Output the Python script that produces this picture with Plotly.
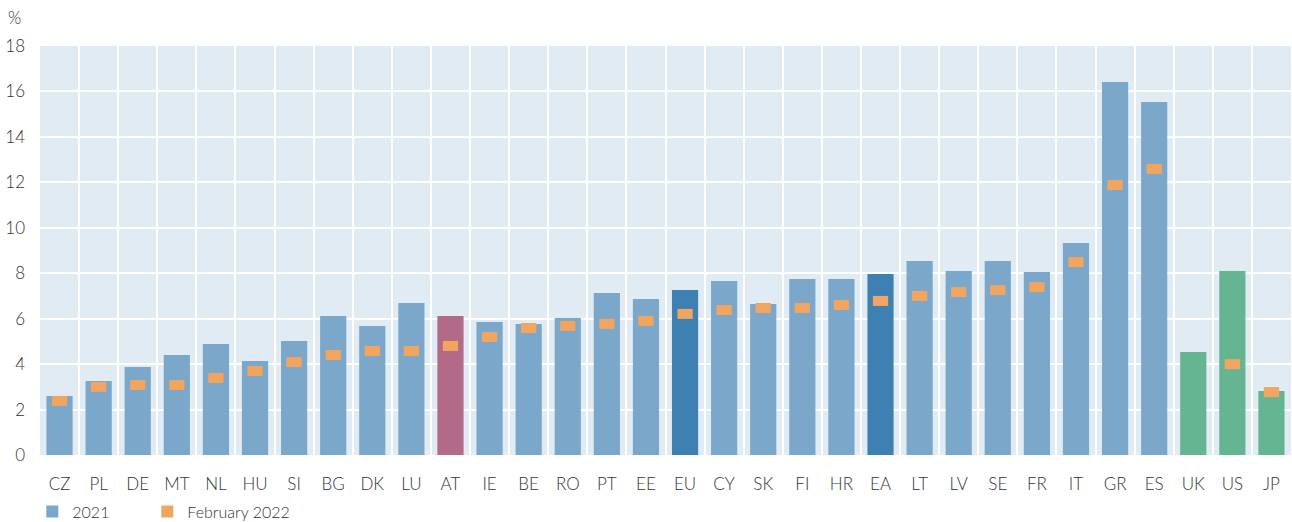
import plotly.graph_objects as go

categories = ["CZ", "PL", "DE", "MT", "NL", "HU", "SI", "BG", "DK", "LU", "AT", "IE", "BE", "RO",
              "PT", "EE", "EU", "CY", "SK", "FI", "HR", "EA", "LT", "LV", "SE", "FR", "IT", "GR",
              "ES", "UK", "US", "JP"]
values_2021 = [2.60, 3.26, 3.87, 4.40, 4.89, 4.14, 5.02, 6.12, 5.68, 6.69, 6.12, 5.85, 5.77, 6.03,
               7.13, 6.87, 7.26, 7.66, 6.65, 7.75, 7.75, 7.97, 8.54, 8.10, 8.54, 8.05, 9.33, 16.42,
               15.54, 4.53, 8.10, 2.82]
values_feb2022 = [2.38, 3.00, 3.08, 3.08, 3.39, 3.70, 4.09, 4.40, 4.58, 4.58, 4.80, 5.19, 5.59, 5.68,
                  5.77, 5.90, 6.21, 6.38, 6.47, 6.47, 6.60, 6.78, 7.00, 7.17, 7.26, 7.39, 8.49, 11.88,
                  12.59, None, 4.00, 2.77]

C_LIGHT = "#7BA7CA"
C_DARK = "#3F80B2"
C_AT = "#B36A88"
C_GREEN = "#66B592"
C_ORANGE = "#F2A55F"

def bar_color(c):
    if c in ("EU", "EA"):
        return C_DARK
    if c == "AT":
        return C_AT
    if c in ("UK", "US", "JP"):
        return C_GREEN
    return C_LIGHT

colors = [bar_color(c) for c in categories]

HALF = 0.22  # half height of the marker rectangle in % units
feb_cats = [c for c, v in zip(categories, values_feb2022) if v is not None]
feb_vals = [v for v in values_feb2022 if v is not None]

FONT = "Lato, 'Open Sans', sans-serif"
TXT = "#333333"

fig = go.Figure()
fig.add_trace(go.Bar(
    x=categories, y=values_2021, name="2021",
    marker=dict(color=colors, line=dict(width=0)),
    width=0.67, legend="legend",
))
fig.add_trace(go.Bar(
    x=feb_cats, y=[2 * HALF] * len(feb_vals), base=[v - HALF for v in feb_vals],
    name="February 2022",
    marker=dict(color=C_ORANGE, line=dict(width=0)),
    width=0.39, legend="legend2",
))

legend_common = dict(
    orientation="h", xref="container", yref="container",
    y=0.02, xanchor="left", yanchor="middle",
    font=dict(family=FONT, size=16, color=TXT, weight=300),
    bgcolor="rgba(0,0,0,0)",
)

fig.update_layout(
    width=1292, height=522,
    barmode="overlay",
    margin=dict(l=40, r=1, t=46, b=67, autoexpand=False),
    paper_bgcolor="white",
    plot_bgcolor="#E1EBF4",
    font=dict(family=FONT, size=17, color=TXT, weight=300),
    showlegend=True,
    legend=dict(x=0.025, **legend_common),
    legend2=dict(x=0.114, **legend_common),
    xaxis=dict(
        type="category",
        tickson="boundaries",
        showgrid=True, gridcolor="white", gridwidth=2,
        ticks="", showline=False, zeroline=False,
        range=[-0.5, len(categories) - 0.5],
        tickfont=dict(family=FONT, size=17, color=TXT, weight=300),
        automargin=False,
        ticklabelstandoff=17,
    ),
    yaxis=dict(
        range=[0, 18], dtick=2, tick0=0,
        showgrid=True, gridcolor="white", gridwidth=2,
        zeroline=False, showline=False, ticks="",
        tickfont=dict(family=FONT, size=17, color=TXT, weight=300),
        ticklabelstandoff=14,
        automargin=False,
    ),
    annotations=[dict(
        text="%", xref="paper", yref="paper", x=-0.027, y=1.07,
        xanchor="left", yanchor="middle", showarrow=False,
        font=dict(family=FONT, size=17, color=TXT, weight=300),
    )],
)

fig.write_html("out.html", config={"displayModeBar": False},
               post_script="document.body.style.margin='0';")
